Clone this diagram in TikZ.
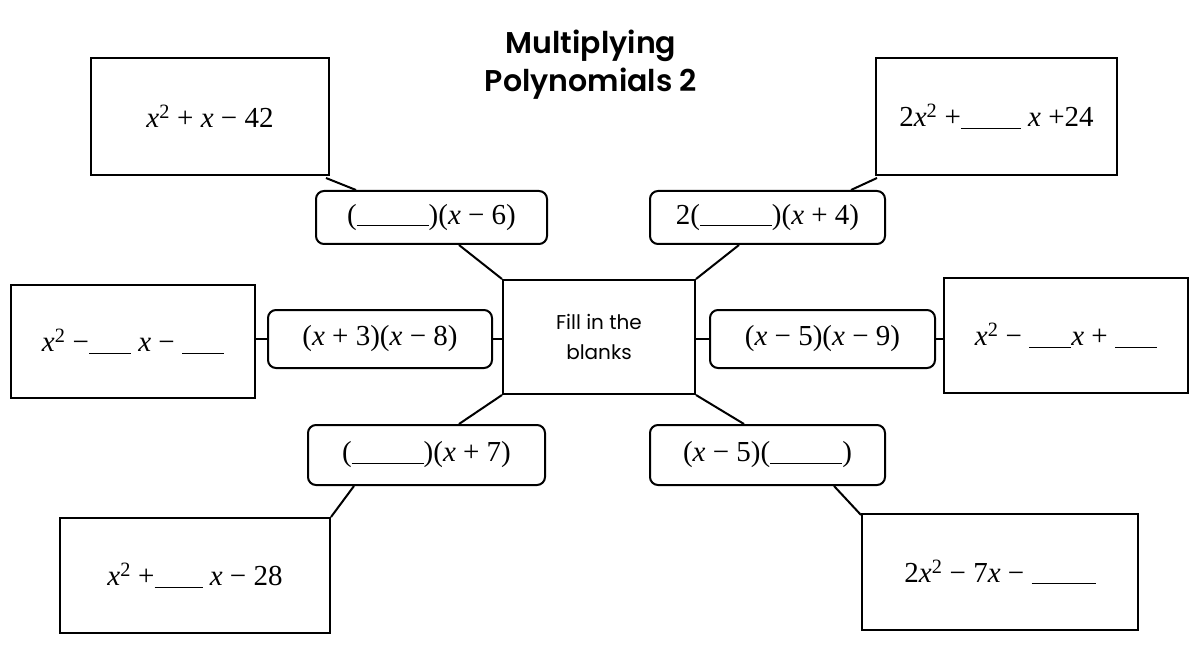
\documentclass[tikz,border=0pt]{standalone}
\usepackage{fontspec}
\setmainfont{Liberation Serif}
\newfontfamily\pop{Poppins}
\newfontfamily\popsb{Poppins SemiBold}
\usetikzlibrary{calc}
\newcommand{\xx}{\textit{x}}
\newcommand{\sq}{\textsuperscript{2}}
\newcommand{\bl}[1]{\rule[-2pt]{#1pt}{1pt}}
\begin{document}
\begin{tikzpicture}[x=1pt,y=-1pt,
  sq/.style={draw,line width=2pt,inner sep=0pt,font=\fontsize{29}{32}\selectfont},
  rnd/.style={draw,line width=2pt,rounded corners=8pt,inner sep=0pt,font=\fontsize{29}{32}\selectfont},
  ln/.style={line width=2pt}]
\useasboundingbox (0,0) rectangle (1200,671);
\node[font=\popsb\fontsize{30}{38}\selectfont,align=center] (title) at (591,65) {Multiplying\\Polynomials 2};
\node[sq,minimum width=238,minimum height=117] (tl) at (210,116.5) {\xx\sq{} + \xx{} − 42};
\node[sq,minimum width=241,minimum height=117] (tr) at (996.5,116.5) {2\xx\sq{} +\bl{60} \xx{} +24};
\node[sq,minimum width=244,minimum height=113] (l) at (133,341.5) {\xx\sq{} −\bl{42} \xx{} − \bl{42}};
\node[sq,minimum width=244,minimum height=115] (r) at (1066,335.5) {\xx\sq{} − \bl{42}\xx{} + \bl{42}};
\node[sq,minimum width=270,minimum height=115] (bl) at (195,575.5) {\xx\sq{} +\bl{48} \xx{} − 28};
\node[sq,minimum width=276,minimum height=116] (br) at (1000,572) {2\xx\sq{} − 7\xx{} − \bl{64}};
\node[sq,minimum width=192,minimum height=114,font=\pop\fontsize{20}{30}\selectfont,align=center] (c) at (599,337) {Fill in the\\blanks};
\node[rnd,minimum width=231,minimum height=53] (r1) at (431.5,217.5) {(\bl{72})(\xx{} − 6)};
\node[rnd,minimum width=235,minimum height=53] (r2) at (767.5,217.5) {2(\bl{72})(\xx{} + 4)};
\node[rnd,minimum width=224,minimum height=58] (r3) at (380,339) {(\xx{} + 3)(\xx{} − 8)};
\node[rnd,minimum width=225,minimum height=58] (r4) at (822.5,339) {(\xx{} − 5)(\xx{} − 9)};
\node[rnd,minimum width=237,minimum height=60] (r5) at (426.5,455) {(\bl{72})(\xx{} + 7)};
\node[rnd,minimum width=235,minimum height=60] (r6) at (767.5,455) {(\xx{} − 5)(\bl{72})};
\draw[ln] ($(tl.south east)+(-4,2)$) -- ($(r1.north west)+(41,0)$);
\draw[ln] ($(r1.south west)+(144,0)$) -- (c.north west);
\draw[ln] ($(tr.south west)+(2,2)$) -- ($(r2.north east)+(-35,0)$);
\draw[ln] ($(r2.south west)+(90,0)$) -- (c.north east);
\draw[ln] (c.south west) -- ($(r5.north west)+(152,0)$);
\draw[ln] ($(r5.south west)+(47,0)$) -- ($(bl.north east)+(0,0)$);
\draw[ln] (c.south east) -- ($(r6.north west)+(95,0)$);
\draw[ln] ($(r6.south west)+(185,0)$) -- ($(br.north west)+(0,2)$);
\draw[ln] (l.east |- r3.west) -- (r3.west);
\draw[ln] (r3.east) -- (c.west |- r3.east);
\draw[ln] (c.east |- r4.west) -- (r4.west);
\draw[ln] (r4.east) -- (r.west |- r4.east);
\end{tikzpicture}
\end{document}
